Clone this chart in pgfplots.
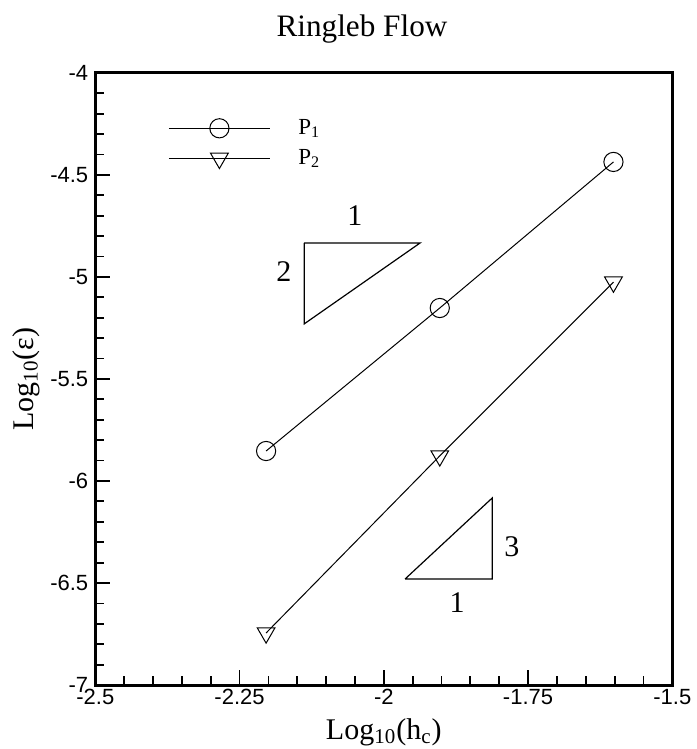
\documentclass[border=0pt]{standalone}
\usepackage{pgfplots}
\pgfplotsset{compat=1.18}
\usepackage{fontspec}
\setmainfont{Liberation Serif}
\newfontfamily\arial{Liberation Sans}

\pgfplotstableread{
x y
-2.204 -5.853
-1.903 -5.152
-1.602 -4.436
}\pone
\pgfplotstableread{
x y
-2.204 -6.745
-1.903 -5.877
-1.602 -5.025
}\ptwo

\begin{document}
\begin{tikzpicture}
\useasboundingbox (-47.65pt,-32pt) rectangle (300.5pt,342.5pt);
\begin{axis}[
  scale only axis, width=288.5pt, height=306pt,
  at={(0,0)}, anchor=south west,
  xmin=-2.5, xmax=-1.5, ymin=-7, ymax=-4,
  xtick={-2.5,-2.25,-2,-1.75,-1.5},
  xticklabels={-2.5,-2.25,-2,-1.75,-1.5},
  ytick={-7,-6.5,-6,-5.5,-5,-4.5,-4},
  yticklabels={-7,-6.5,-6,-5.5,-5,-4.5,-4},
  minor x tick num=4, minor y tick num=4,
  xtick pos=bottom, ytick pos=left,
  tick align=inside,
  major tick length=7.5pt, minor tick length=4.5pt,
  every tick/.style={black, line width=0.9pt},
  axis line style={line width=1.5pt},
  ticklabel style={font=\arial\fontsize{11}{13}\selectfont},
  xticklabel style={inner sep=2pt},
  xlabel={Log\textsubscript{10}(h\textsubscript{c})},
  ylabel={Log\textsubscript{10}(ε)},
  label style={font=\fontsize{15}{18}\selectfont},
  xlabel style={at={(axis description cs:0.5,0)}, anchor=base, yshift=-27pt},
  ylabel style={at={(axis description cs:0,0.5)}, anchor=base, yshift=31pt},
  legend style={draw=none, fill=none, at={(axis cs:-2.374,-4.215)}, anchor=north west,
    inner sep=0pt, row sep=4pt, font=\fontsize{11.5}{13}\selectfont,
    nodes={inner sep=1pt}},
  legend cell align=left,
  legend image code/.code={%
    \draw[mark repeat=2,mark phase=2,#1] plot coordinates {(0pt,0pt) (25.25pt,0pt) (50.5pt,0pt)};},
  clip=false,
]
\addplot[black, line width=0.5pt, mark=o, mark size=4.8pt, mark options={line width=0.5pt}] table {\pone};
\addlegendentry{\hspace{13pt}P\textsubscript{1}}
\addplot[black, line width=0.5pt, mark=triangle, mark size=5.1pt, mark options={rotate=180, line width=0.5pt}] table {\ptwo};
\addlegendentry{\hspace{13pt}P\textsubscript{2}}
% slope triangles
\addplot[black, line width=0.6pt, forget plot] coordinates {(-2.138,-4.833) (-1.937,-4.833) (-2.138,-5.230) (-2.138,-4.833)};
\addplot[black, line width=0.6pt, forget plot] coordinates {(-1.963,-6.48) (-1.812,-6.48) (-1.812,-6.083) (-1.963,-6.48)};
\node[font=\fontsize{15}{18}\selectfont] at (axis cs:-2.05,-4.70) {1};
\node[font=\fontsize{15}{18}\selectfont] at (axis cs:-2.173,-4.975) {2};
\node[font=\fontsize{15}{18}\selectfont] at (axis cs:-1.778,-6.32) {3};
\node[font=\fontsize{15}{18}\selectfont] at (axis cs:-1.873,-6.598) {1};
\end{axis}
\node[anchor=base, font=\fontsize{15.6}{18}\selectfont] at (133.35pt,324pt) {Ringleb Flow};
\end{tikzpicture}
\end{document}
